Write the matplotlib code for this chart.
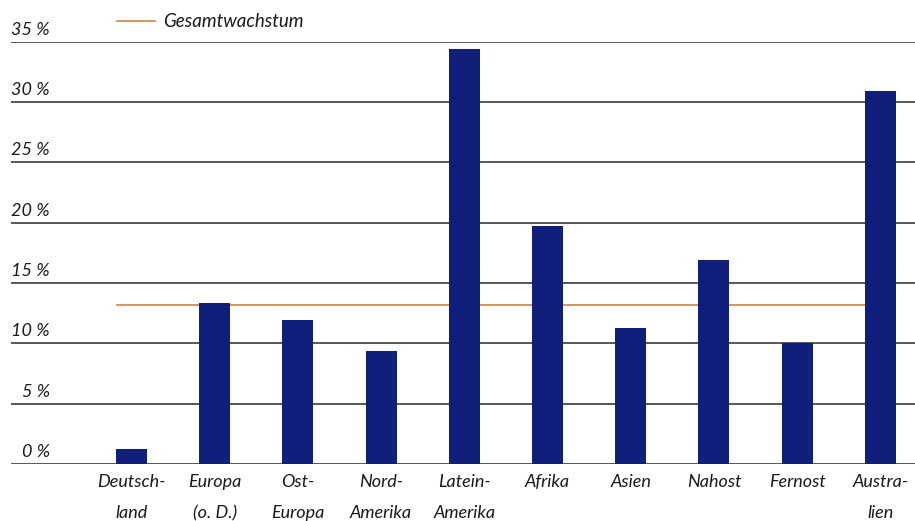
import numpy as np
import matplotlib
matplotlib.use("Agg")
import matplotlib.pyplot as plt
import matplotlib.transforms as mtransforms

plt.rcParams["font.family"] = ["Lato", "DejaVu Sans"]

# ---- Data ----
regions = ["Deutsch-\nland", "Europa\n(o. D.)", "Ost-\nEuropa", "Nord-\nAmerika",
           "Latein-\nAmerika", "Afrika", "Asien", "Nahost", "Fernost", "Austra-\nlien"]
growth = [1.25, 13.3, 11.9, 9.4, 34.4, 19.7, 11.25, 16.9, 10.0, 30.9]
total_growth = 13.15
y_ticks = [0, 5, 10, 15, 20, 25, 30, 35]
y_labels = [f"{v} %" for v in y_ticks]

bar_color = "#0f1f7a"
line_color = "#c8793a"
grid_color = "#4a4a4a"
text_color = "#1a1a1a"

fig = plt.figure(figsize=(9.15, 5.21), dpi=100)
ax = fig.add_axes([11 / 915, 57 / 521, 904 / 915, 422.4 / 521])

x = np.arange(len(regions))
bar_w = 0.373

# gridlines behind everything
for v in y_ticks:
    ax.axhline(v, color=grid_color, lw=1.3, zorder=1)

# overall growth line (behind bars)
ax.hlines(total_growth, x[0] - bar_w / 2, x[-1] + bar_w / 2,
          color=line_color, lw=1.1, zorder=2)

ax.bar(x, growth, width=bar_w, color=bar_color, zorder=3)

ax.set_xlim(-1.448, 9.417)
ax.set_ylim(0, 35)

# y labels sit above the gridlines
offset = mtransforms.ScaledTranslation(0, 4 / 100, fig.dpi_scale_trans)
trans = mtransforms.blended_transform_factory(ax.transAxes, ax.transData) + offset
for v, lab in zip(y_ticks, y_labels):
    ax.text(0.043, v, lab, transform=trans, ha="right", va="bottom",
            fontsize=13, style="italic", color=text_color)

ax.set_xticks(x)
ax.set_xticklabels(regions, fontsize=13, style="italic", color=text_color,
                   linespacing=2.2, va="top")
ax.tick_params(axis="x", length=0, pad=7)
ax.set_yticks([])
for s in ax.spines.values():
    s.set_visible(False)

# legend at the top
fig.lines.append(plt.Line2D([117 / 915, 155 / 915], [1 - 21 / 521, 1 - 21 / 521],
                            color=line_color, lw=1.1, transform=fig.transFigure))
fig.text(163 / 915, 1 - 27 / 521, "Gesamtwachstum", fontsize=13.5, style="italic",
         color=text_color, ha="left", va="baseline")

fig.savefig("out.png", dpi=100)
